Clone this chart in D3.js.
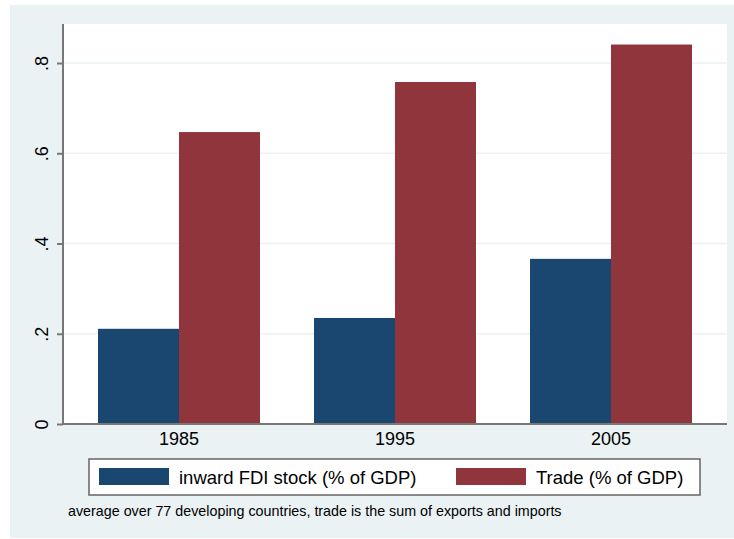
<!DOCTYPE html>
<html>
<head>
<meta charset="utf-8">
<script src="https://cdn.jsdelivr.net/npm/d3@7"></script>
<style>
  body { margin: 0; background: #fff; }
  text { font-family: "Liberation Sans", Arial, sans-serif; }
</style>
</head>
<body>
<div id="chart"></div>
<script>
const years = ["1985", "1995", "2005"];
const seriesNames = ["inward FDI stock (% of GDP)", "Trade (% of GDP)"];
const fdi = [0.211, 0.235, 0.366];
const trade = [0.647, 0.758, 0.841];
const yTicks = [0, 0.2, 0.4, 0.6, 0.8];
const yTickLabels = ["0", ".2", ".4", ".6", ".8"];
const note = "average over 77 developing countries, trade is the sum of exports and imports";

const W = 734, H = 539;
const colors = ["#1a476f", "#90353b"];
const plot = { left: 63, right: 727, top: 24, bottom: 424 };

const svg = d3.select("#chart").append("svg")
  .attr("width", W).attr("height", H);

// outer graph region
svg.append("rect")
  .attr("x", 10).attr("y", 5).attr("width", W - 10).attr("height", 533)
  .attr("fill", "#eaf2f3");

svg.append("rect")
  .attr("x", plot.left).attr("y", plot.top)
  .attr("width", plot.right - plot.left).attr("height", plot.bottom - plot.top)
  .attr("fill", "#fff");

const y = d3.scaleLinear().domain([0, 0.8865]).range([plot.bottom, plot.top]);
const x0 = d3.scaleBand().domain(years).range([plot.left, plot.right])
  .paddingInner(0.25).paddingOuter(0.162);
const x1 = d3.scaleBand().domain([0, 1]).range([0, x0.bandwidth()]);

// grid
svg.append("g").selectAll("line")
  .data(yTicks.slice(1))
  .enter().append("line")
  .attr("x1", plot.left).attr("x2", plot.right)
  .attr("y1", d => y(d)).attr("y2", d => y(d))
  .attr("stroke", "#eaf2f3").attr("stroke-width", 1.5);

const rows = years.map((yr, i) => ({ yr, vals: [fdi[i], trade[i]] }));
svg.append("g").selectAll("g")
  .data(rows).enter().append("g")
  .attr("transform", d => `translate(${x0(d.yr)},0)`)
  .selectAll("rect")
  .data(d => d.vals.map((v, k) => ({ v, k })))
  .enter().append("rect")
  .attr("x", d => x1(d.k))
  .attr("width", x1.bandwidth())
  .attr("y", d => y(d.v))
  .attr("height", d => y(0) - y(d.v))
  .attr("fill", d => colors[d.k]);

// y axis
const yAxis = d3.axisLeft(y).tickValues(yTicks)
  .tickFormat((d, i) => yTickLabels[i]).tickSize(6);
const gy = svg.append("g").attr("transform", `translate(${plot.left},0)`).call(yAxis);
gy.select(".domain").attr("stroke", "#777").attr("stroke-width", 2)
  .attr("d", `M0,${plot.top}V${plot.bottom}`);
gy.selectAll(".tick line").attr("stroke", "#777").attr("stroke-width", 2);
gy.selectAll(".tick text")
  .attr("font-size", 18).attr("fill", "#000")
  .attr("text-anchor", "middle")
  .attr("x", 0).attr("y", 0)
  .attr("dy", "0.35em")
  .attr("transform", "translate(-21,0) rotate(-90)");

// x axis
const xAxis = d3.axisBottom(x0).tickSize(0).tickPadding(8);
const gx = svg.append("g").attr("transform", `translate(0,${plot.bottom})`).call(xAxis);
gx.select(".domain").attr("stroke", "#777").attr("stroke-width", 2)
  .attr("d", `M${plot.left},0H${plot.right}`);
gx.selectAll(".tick text").attr("font-size", 18).attr("fill", "#000");

// legend
const lg = svg.append("g");
lg.append("rect")
  .attr("x", 89).attr("y", 459).attr("width", 611).attr("height", 36)
  .attr("fill", "#fff").attr("stroke", "#666").attr("stroke-width", 1.5);
const legX = [99, 456];
seriesNames.forEach((name, i) => {
  lg.append("rect")
    .attr("x", legX[i]).attr("y", 468).attr("width", 70).attr("height", 17)
    .attr("fill", colors[i]);
  lg.append("text")
    .attr("x", legX[i] + 80).attr("y", 484)
    .attr("font-size", 18.5).attr("fill", "#000")
    .text(name);
});

svg.append("text")
  .attr("x", 68).attr("y", 516)
  .attr("font-size", 14.3).attr("fill", "#000")
  .text(note);
</script>
</body>
</html>
